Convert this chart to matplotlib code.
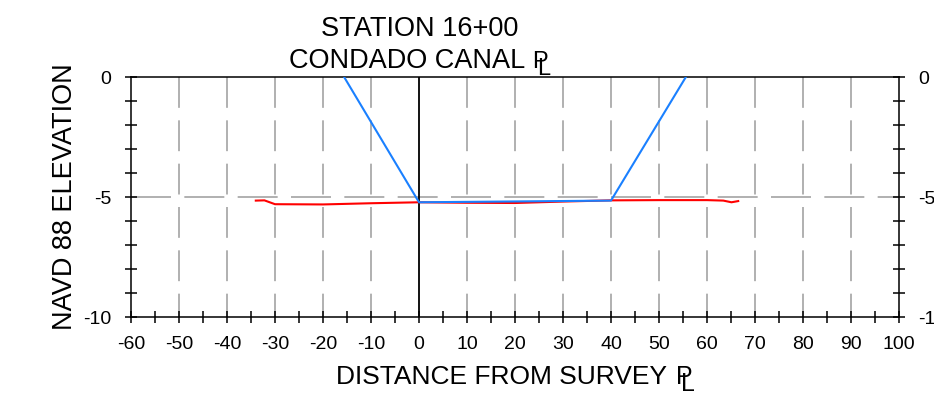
import matplotlib
matplotlib.use('Agg')
import matplotlib.pyplot as plt
from matplotlib.ticker import MultipleLocator, FixedLocator

plt.rcParams['font.family'] = ['Liberation Sans', 'DejaVu Sans']
plt.rcParams['axes.unicode_minus'] = False

# ---- texts ----
title_line1 = "STATION 16+00"
title_line2 = "CONDADO CANAL"
xlabel_text = "DISTANCE FROM SURVEY"
ylabel_text = "NAVD 88 ELEVATION"
cl_top = "P"      # centre-line symbol, drawn as P over L
cl_bottom = "L"

# ---- axes / ticks ----
x_ticks = [-60, -50, -40, -30, -20, -10, 0, 10, 20, 30, 40, 50, 60, 70, 80, 90, 100]
y_ticks = [-10, -5, 0]
grid_x = [-50, -40, -30, -20, -10, 10, 20, 30, 40, 50, 60, 70, 80, 90]
grid_y = [-5]

# ---- data ----
ground_x = [-34.0, -32.2, -30.0, -20.0, -10.0, 0.0, 10.0, 20.0, 30.0, 40.0, 50.0, 60.0, 63.4, 65.1, 66.5]
ground_y = [-5.15, -5.14, -5.30, -5.31, -5.26, -5.22, -5.24, -5.25, -5.19, -5.14, -5.13, -5.13, -5.15, -5.22, -5.17]

design_x = [-15.6, 0.0, 40.0, 55.6]
design_y = [0.0, -5.22, -5.15, 0.0]

W, H = 934, 407
fig = plt.figure(figsize=(W / 100, H / 100), dpi=100)
ax = fig.add_axes([131 / W, 1 - 317 / H, 768 / W, 240 / H])
ax.set_xlim(-60, 100)
ax.set_ylim(-10, 0)

grid_col = '#a3a3a3'
for gx in grid_x:
    ax.plot([gx, gx], [0, -10], color=grid_col, lw=1.2,
            linestyle=(0, (18.5, 7.5)), zorder=1)
for gy in grid_y:
    ax.plot([-60, 100], [gy, gy], color=grid_col, lw=1.2,
            linestyle=(0, (24, 8)), zorder=1)
ax.axvline(0, color='black', lw=1.3, zorder=2)

ax.plot(ground_x, ground_y, color='#ff0000', lw=1.5, zorder=3)
ax.plot(design_x, design_y, color='#1a80ff', lw=1.5, zorder=4)

for s in ax.spines.values():
    s.set_linewidth(1.1)
    s.set_color('black')

ax.xaxis.set_major_locator(FixedLocator(x_ticks))
ax.xaxis.set_minor_locator(MultipleLocator(5))
ax.yaxis.set_major_locator(FixedLocator(y_ticks))
ax.yaxis.set_minor_locator(MultipleLocator(1))
ax.tick_params(which='both', direction='inout', width=1.1, colors='black')
ax.tick_params(which='major', length=9, labelsize=14, pad=9.5)
ax.tick_params(which='minor', length=8)
ax.tick_params(axis='y', which='both', left=True, right=True, labelleft=True, labelright=True)
ax.tick_params(axis='x', which='both', top=False)

ax.set_xlabel(xlabel_text, fontsize=19)
ax.xaxis.label.set_va('baseline')
ax.xaxis.set_label_coords(0.4818, -0.279)

ax.set_ylabel(ylabel_text, fontsize=19.5)
ax.yaxis.set_label_coords(-0.0695, 0.5)

t1 = fig.text(420 / W, 1 - 36 / H, title_line1, ha='center', va='baseline', fontsize=19.5)
t2 = fig.text(407 / W, 1 - 68 / H, title_line2, ha='center', va='baseline', fontsize=19.5)

# centre-line symbols (P with L offset)
def cl_symbol(artist, dx, size, desc, ldx, ldy):
    ax.annotate(cl_top, xy=(1, 0), xycoords=artist, xytext=(dx, desc),
                textcoords='offset pixels', ha='left', va='baseline',
                fontsize=size, annotation_clip=False)
    ax.annotate(cl_bottom, xy=(1, 0), xycoords=artist, xytext=(dx + ldx, desc - ldy),
                textcoords='offset pixels', ha='left', va='baseline',
                fontsize=size, annotation_clip=False)

cl_symbol(t2, 7, 17, 5.7, 5, 6.5)
cl_symbol(ax.xaxis.label, 9, 18, 5.4, 5, 7)

fig.savefig('out.png', dpi=100)
